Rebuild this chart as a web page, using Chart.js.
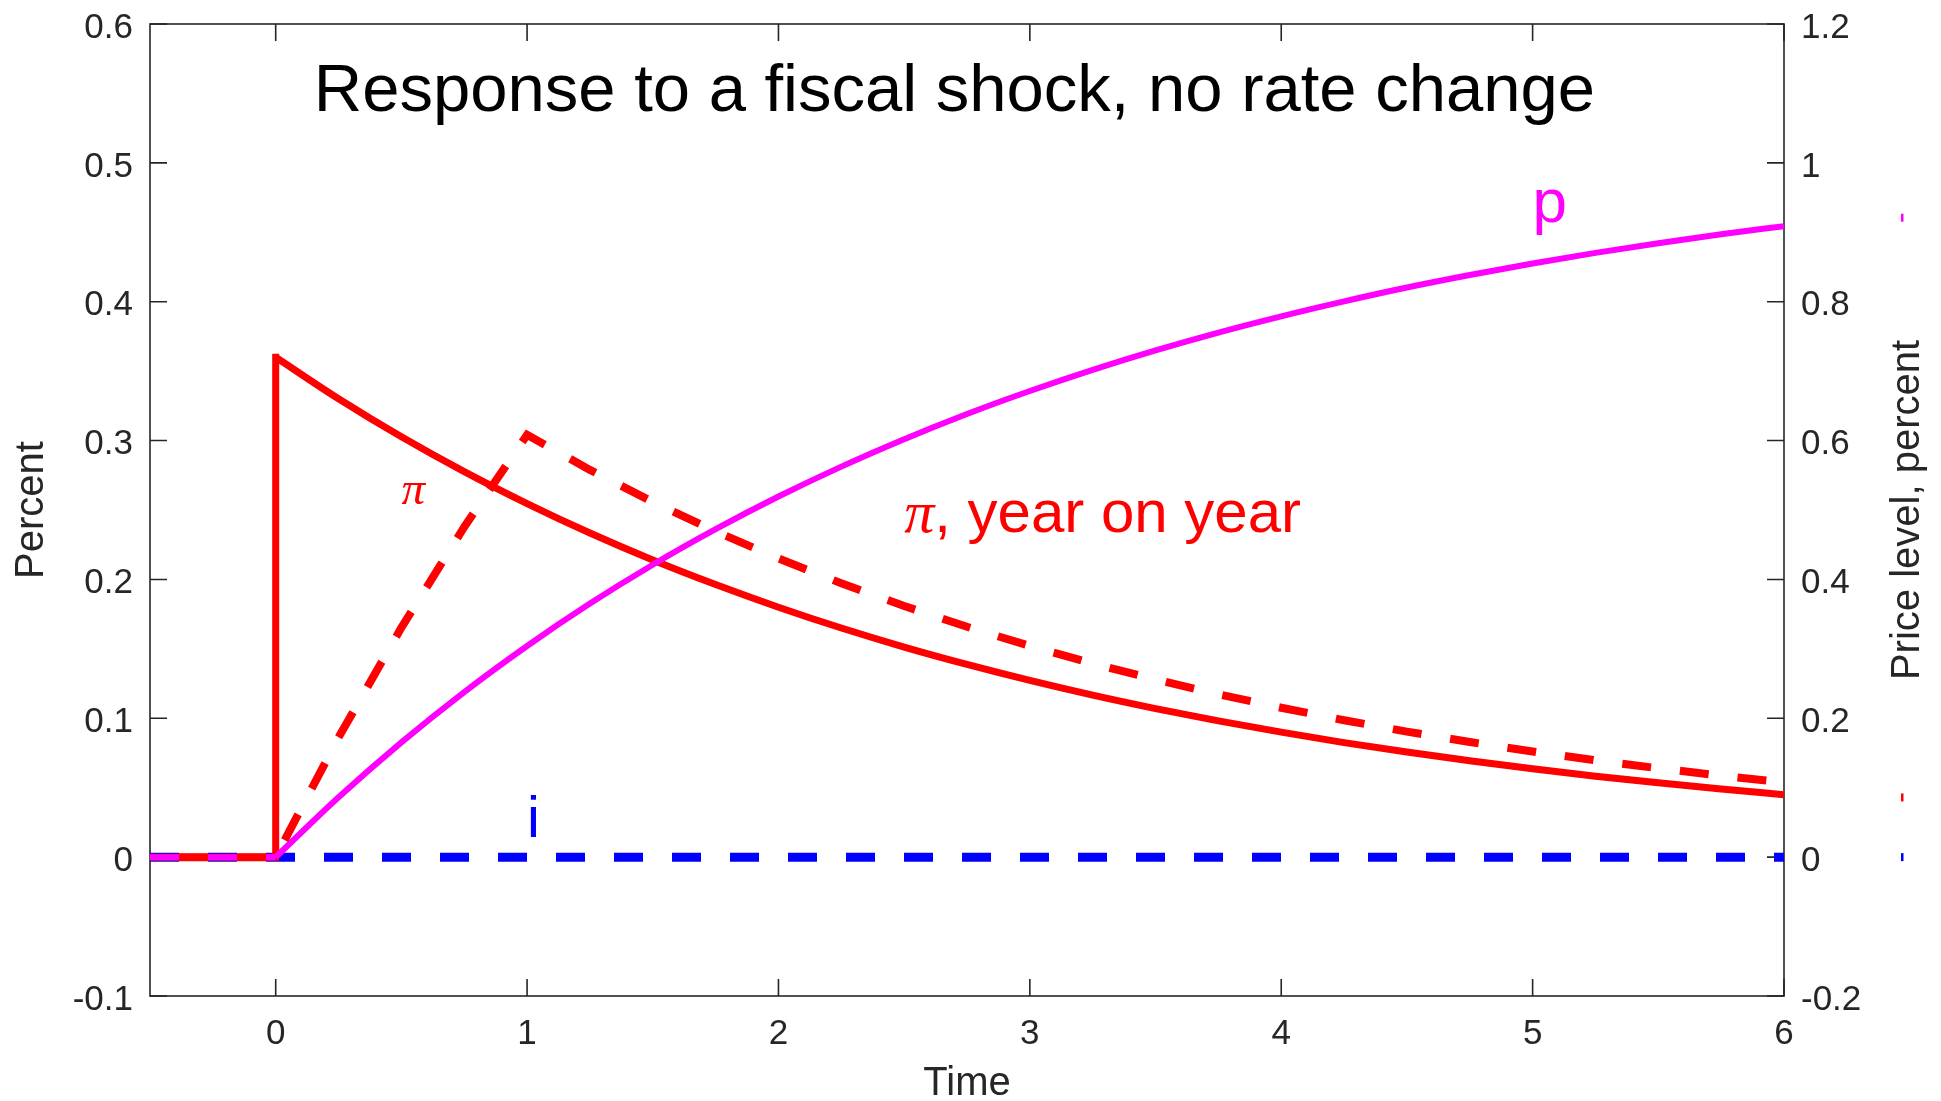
<!DOCTYPE html>
<html>
<head>
<meta charset="utf-8">
<script src="https://cdn.jsdelivr.net/npm/chart.js@4/dist/chart.umd.min.js"></script>
<style>
  html, body { margin: 0; padding: 0; background: #fff; overflow: hidden; }
  canvas { display: block; }
</style>
</head>
<body>
<canvas id="chart" width="1941" height="1101"></canvas>
<script>
// ---- data ----------------------------------------------------------------
// time grid (years); the shock hits at t = 0
const timeSteps = [-0.5, 0, 0.25, 0.5, 0.75, 1, 1.25, 1.5, 1.75, 2, 2.25, 2.5, 2.75,
                   3, 3.25, 3.5, 3.75, 4, 4.25, 4.5, 4.75, 5, 5.25, 5.5, 5.75, 6];

// instantaneous inflation: jumps at t = 0, so t = 0 appears twice
const inflationTime = [-0.5, 0, 0, 0.25, 0.5, 0.75, 1, 1.25, 1.5, 1.75, 2, 2.25, 2.5, 2.75,
                       3, 3.25, 3.5, 3.75, 4, 4.25, 4.5, 4.75, 5, 5.25, 5.5, 5.75, 6];
const inflation = [0, 0, 0.3600, 0.3301, 0.3027, 0.2776, 0.2546, 0.2334, 0.2140, 0.1963, 0.1800,
                   0.1650, 0.1513, 0.1388, 0.1273, 0.1167, 0.1070, 0.0981, 0.0900, 0.0825, 0.0757,
                   0.0694, 0.0636, 0.0583, 0.0535, 0.0491, 0.0450];

// year-on-year inflation (percent, left axis)
const inflationYoY = [0, 0, 0.0862, 0.1653, 0.2378, 0.3042, 0.2789, 0.2558, 0.2346, 0.2151, 0.1972,
                      0.1809, 0.1659, 0.1521, 0.1395, 0.1279, 0.1173, 0.1076, 0.0986, 0.0904, 0.0829,
                      0.0761, 0.0697, 0.0640, 0.0587, 0.0538];

// price level (percent, right axis)
const priceLevel = [0, 0, 0.0862, 0.1653, 0.2378, 0.3042, 0.3652, 0.4211, 0.4723, 0.5194, 0.5625,
                    0.6020, 0.6383, 0.6714, 0.7019, 0.7299, 0.7556, 0.7790, 0.8005, 0.8204, 0.8384,
                    0.8551, 0.8703, 0.8843, 0.8971, 0.9089];

// nominal interest rate: unchanged
const interestRate = [0, 0, 0, 0, 0, 0, 0, 0, 0, 0, 0, 0, 0, 0, 0, 0, 0, 0, 0, 0, 0, 0, 0, 0, 0, 0];

// axis ticks
const xTicks = [0, 1, 2, 3, 4, 5, 6];
const xTickLabels = ['0', '1', '2', '3', '4', '5', '6'];
const leftTicks = [-0.1, 0, 0.1, 0.2, 0.3, 0.4, 0.5, 0.6];
const leftTickLabels = ['-0.1', '0', '0.1', '0.2', '0.3', '0.4', '0.5', '0.6'];
const rightTicks = [-0.2, 0, 0.2, 0.4, 0.6, 0.8, 1, 1.2];
const rightTickLabels = ['-0.2', '0', '0.2', '0.4', '0.6', '0.8', '1', '1.2'];

// ---- styling ---------------------------------------------------------------
const SANS = '"Liberation Sans", Arial, Helvetica, sans-serif';
const SERIF = '"Liberation Serif", "Times New Roman", serif';
const AXIS_COLOR = '#262626';
const RED = '#ff0000', MAGENTA = '#ff00ff', BLUE = '#0000ff';

const pts = (xs, ys) => xs.map((x, i) => ({ x: x, y: ys[i] }));
const SHOCK = 1;          // index of t = 0 in timeSteps
const JUMP = 2;           // index of the post-jump point in inflationTime

// text placed in data coordinates (left axis)
const notes = [
  { parts: [{ text: 'Response to a fiscal shock, no rate change', font: '67px ' + SANS }],
    x: 2.70, y: 0.537, align: 'center', color: '#000000' },
  { parts: [{ text: 'p', font: '62px ' + SANS }], x: 5.0, y: 0.4575, align: 'left', color: MAGENTA },
  { parts: [{ text: 'i', font: '58px ' + SANS }], x: 1.0, y: 0.0145, align: 'left', color: BLUE },
  { parts: [{ text: 'π', font: 'italic 47px ' + SERIF }], x: 0.5, y: 0.254, align: 'left', color: RED },
  { parts: [{ text: 'π', font: 'italic 60px ' + SERIF }, { text: ', year on year', font: '60px ' + SANS }],
    x: 2.5, y: 0.234, align: 'left', color: RED }
];

// small line-end markers printed outside the right axis
const edgeMarks = [
  { axis: 'y2', value: 0.921, color: MAGENTA },
  { axis: 'y', value: 0.043, color: RED },
  { axis: 'y', value: 0, color: BLUE }
];

// MATLAB-style box: frame on all sides with inward ticks, titles on the sides
const framePlugin = {
  id: 'frame',
  beforeDatasetsDraw(chart) {
    const { ctx, chartArea: a, scales } = chart;
    const L = 17;
    ctx.save();
    ctx.strokeStyle = AXIS_COLOR;
    ctx.lineWidth = 1.6;
    ctx.strokeRect(a.left, a.top, a.right - a.left, a.bottom - a.top);
    ctx.beginPath();
    scales.x.ticks.forEach(t => {
      const px = scales.x.getPixelForValue(t.value);
      ctx.moveTo(px, a.bottom); ctx.lineTo(px, a.bottom - L);
      ctx.moveTo(px, a.top); ctx.lineTo(px, a.top + L);
    });
    scales.y.ticks.forEach(t => {
      const py = scales.y.getPixelForValue(t.value);
      ctx.moveTo(a.left, py); ctx.lineTo(a.left + L, py);
    });
    scales.y2.ticks.forEach(t => {
      const py = scales.y2.getPixelForValue(t.value);
      ctx.moveTo(a.right, py); ctx.lineTo(a.right - L, py);
    });
    ctx.stroke();

    // axis titles
    const midY = (a.top + a.bottom) / 2;
    ctx.fillStyle = AXIS_COLOR;
    ctx.font = '40px ' + SANS;
    ctx.textAlign = 'center';
    ctx.textBaseline = 'alphabetic';
    ctx.fillText('Time', (a.left + a.right) / 2, a.bottom + 99);

    ctx.save();
    ctx.translate(a.left - 107, midY);
    ctx.rotate(-Math.PI / 2);
    ctx.fillText('Percent', 0, 0);
    ctx.restore();

    ctx.save();
    ctx.translate(a.right + 135, midY);
    ctx.rotate(-Math.PI / 2);
    ctx.fillText('Price level, percent', 0, 0);
    ctx.restore();
    ctx.restore();
  },
  afterDatasetsDraw(chart) {
    const { ctx, chartArea: a, scales } = chart;
    ctx.save();
    ctx.textBaseline = 'alphabetic';
    notes.forEach(n => {
      let width = 0;
      n.parts.forEach(p => { ctx.font = p.font; width += ctx.measureText(p.text).width; });
      let x = scales.x.getPixelForValue(n.x);
      if (n.align === 'center') x -= width / 2;
      const y = scales.y.getPixelForValue(n.y);
      ctx.fillStyle = n.color;
      ctx.textAlign = 'left';
      n.parts.forEach(p => {
        ctx.font = p.font;
        ctx.fillText(p.text, x, y);
        x += ctx.measureText(p.text).width;
      });
    });
    edgeMarks.forEach(m => {
      const py = scales[m.axis].getPixelForValue(m.value);
      ctx.fillStyle = m.color;
      ctx.fillRect(a.right + 117, py - 4, 2.5, 8);
    });
    ctx.restore();
  }
};

const tickFont = { family: SANS, size: 35 };
const smooth = { cubicInterpolationMode: 'monotone' };

new Chart(document.getElementById('chart'), {
  type: 'line',
  data: {
    datasets: [
      { // year-on-year inflation, dashed (drawn on top)
        data: pts(timeSteps, inflationYoY), yAxisID: 'y',
        borderColor: RED, borderWidth: 8, borderDash: [29, 29], borderDashOffset: 29,
        borderCapStyle: 'butt'
      },
      { // price level before the shock
        data: pts(timeSteps.slice(0, SHOCK + 1), priceLevel.slice(0, SHOCK + 1)), yAxisID: 'y2',
        borderColor: MAGENTA, borderWidth: 6
      },
      Object.assign({ // price level after the shock, right axis
        data: pts(timeSteps.slice(SHOCK), priceLevel.slice(SHOCK)), yAxisID: 'y2',
        borderColor: MAGENTA, borderWidth: 6
      }, smooth),
      { // inflation up to and including the jump
        data: pts(inflationTime.slice(0, JUMP + 1), inflation.slice(0, JUMP + 1)), yAxisID: 'y',
        borderColor: RED, borderWidth: 7, borderCapStyle: 'square'
      },
      Object.assign({ // inflation decay after the jump
        data: pts(inflationTime.slice(JUMP), inflation.slice(JUMP)), yAxisID: 'y',
        borderColor: RED, borderWidth: 7
      }, smooth),
      { // interest rate, dashed
        data: pts(timeSteps, interestRate), yAxisID: 'y',
        borderColor: BLUE, borderWidth: 9, borderDash: [29, 29], borderCapStyle: 'butt'
      }
    ]
  },
  options: {
    responsive: false,
    devicePixelRatio: 1,
    animation: false,
    layout: { padding: { top: 24, left: 0, right: 0, bottom: 0 } },
    elements: { point: { radius: 0, hoverRadius: 0 }, line: { tension: 0, fill: false } },
    plugins: { legend: { display: false }, tooltip: { enabled: false } },
    events: [],
    scales: {
      x: {
        type: 'linear', position: 'bottom', min: -0.5, max: 6,
        afterBuildTicks: s => { s.ticks = xTicks.map(v => ({ value: v })); },
        afterFit: s => { s.height = 105; s.paddingLeft = 0; s.paddingRight = 0; },
        grid: { display: false, drawTicks: false },
        border: { display: false },
        ticks: {
          font: tickFont, color: AXIS_COLOR, padding: 17, maxRotation: 0, autoSkip: false,
          callback: (v, i) => xTickLabels[i]
        }
      },
      y: {
        type: 'linear', position: 'left', min: -0.1, max: 0.6,
        afterBuildTicks: s => { s.ticks = leftTicks.map(v => ({ value: v })); },
        afterFit: s => { s.width = 150; s.paddingTop = 0; s.paddingBottom = 0; },
        grid: { display: false, drawTicks: false },
        border: { display: false },
        ticks: {
          font: tickFont, color: AXIS_COLOR, padding: 17, labelOffset: 4, autoSkip: false,
          callback: (v, i) => leftTickLabels[i]
        }
      },
      y2: {
        type: 'linear', position: 'right', min: -0.2, max: 1.2,
        afterBuildTicks: s => { s.ticks = rightTicks.map(v => ({ value: v })); },
        afterFit: s => { s.width = 157; s.paddingTop = 0; s.paddingBottom = 0; },
        grid: { display: false, drawTicks: false },
        border: { display: false },
        ticks: {
          font: tickFont, color: AXIS_COLOR, padding: 17, labelOffset: 4, autoSkip: false,
          callback: (v, i) => rightTickLabels[i]
        }
      }
    }
  },
  plugins: [framePlugin]
});
</script>
</body>
</html>
